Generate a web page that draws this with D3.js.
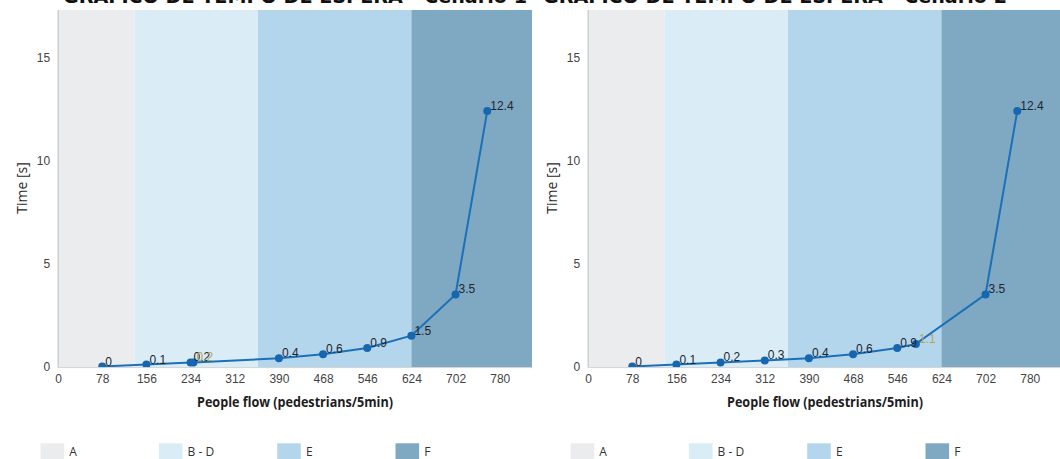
<!DOCTYPE html>
<html><head><meta charset="utf-8">
<script src="https://cdn.jsdelivr.net/npm/d3@7"></script>
<style>html,body{margin:0;padding:0;background:#fff;}svg{display:block;}</style>
</head><body>
<svg id="c" width="1060" height="459"></svg>
<script>
// ---- data ----
const titles = ["GRÁFICO DE TEMPO DE ESPERA - Cenário 1", "GRÁFICO DE TEMPO DE ESPERA - Cenário 2"];
const xTicks = [0, 78, 156, 234, 312, 390, 468, 546, 624, 702, 780];
const yTicks = [0, 5, 10, 15];
const bandNames = ["A", "B - D", "E", "F"];
const bandStart = [0, 135, 353, 624];
const bandEnd = [135, 353, 624, 900];
const bandColors = ["#eaecee", "#daedf6", "#b4d6ec", "#7fa8c3"];
const flow1 = [78, 156, 234, 239, 390, 468, 546, 624, 702, 758];
const time1 = [0, 0.1, 0.2, 0.2, 0.4, 0.6, 0.9, 1.5, 3.5, 12.4];
const tanLabels1 = [3];
const flow2 = [78, 156, 234, 312, 390, 468, 546, 579, 702, 758];
const time2 = [0, 0.1, 0.2, 0.3, 0.4, 0.6, 0.9, 1.1, 3.5, 12.4];
const tanLabels2 = [7];
const xLabel = "People flow (pedestrians/5min)";
const yLabel = "Time [s]";

const svg = d3.select("#c");

function drawChart(ox, title, titleX, titleW, flow, time, tanIdx) {
  const g = svg.append("g").attr("transform", `translate(${ox},0)`);
  const xMax = 837, yMax = 17.3;
  const x = d3.scaleLinear().domain([0, xMax]).range([58.1, 532]);
  const y = d3.scaleLinear().domain([0, 15]).range([366.6, 57.3]);
  const clipId = "clip" + ox;
  g.append("clipPath").attr("id", clipId).append("rect")
    .attr("x", x(0)).attr("y", y(yMax)).attr("width", x(xMax) - x(0)).attr("height", y(0) - y(yMax) + 1);
  const plot = g.append("g").attr("clip-path", `url(#${clipId})`);
  plot.selectAll("rect.band").data(bandNames).join("rect")
    .attr("x", (d, i) => x(bandStart[i]))
    .attr("width", (d, i) => x(bandEnd[i]) - x(bandStart[i]))
    .attr("y", y(yMax)).attr("height", y(0) - y(yMax) + 1)
    .attr("fill", (d, i) => bandColors[i]);
  // axis lines
  g.append("line").attr("x1", x(0)).attr("x2", x(0)).attr("y1", y(yMax)).attr("y2", y(0) + 1)
    .attr("stroke", "#b9bcc0").attr("stroke-width", 1);
  g.append("line").attr("x1", x(0)).attr("x2", x(xMax)).attr("y1", y(0) + 1).attr("y2", y(0) + 1)
    .attr("stroke", "#d0d3d6").attr("stroke-width", 1);
  // x axis
  const xa = g.append("g").attr("transform", `translate(0,${y(0) + 2})`)
    .call(d3.axisBottom(x).tickValues(xTicks).tickSize(0).tickPadding(6));
  xa.select(".domain").remove();
  xa.selectAll("text").attr("font-family", "Arial, 'Liberation Sans', sans-serif").attr("font-size", 12).attr("fill", "#444");
  // y axis
  const ya = g.append("g").attr("transform", `translate(${x(0) - 5},0)`)
    .call(d3.axisLeft(y).tickValues(yTicks).tickSize(0).tickPadding(3));
  ya.select(".domain").remove();
  ya.selectAll("text").attr("font-family", "Arial, 'Liberation Sans', sans-serif").attr("font-size", 12).attr("fill", "#444");
  // line
  const pts = flow.map((f, i) => [f, time[i]]);
  plot.append("path").datum(pts)
    .attr("d", d3.line().x(d => x(d[0])).y(d => y(d[1])))
    .attr("fill", "none").attr("stroke", "#1b70b8").attr("stroke-width", 2);
  plot.selectAll("circle").data(pts).join("circle")
    .attr("cx", d => x(d[0])).attr("cy", d => y(d[1])).attr("r", 4)
    .attr("fill", "#1667b0");
  g.selectAll("text.lbl").data(pts).join("text").attr("class", "lbl")
    .attr("x", d => x(d[0]) + 3).attr("y", d => y(d[1]) - 1)
    .attr("font-family", "Arial, 'Liberation Sans', sans-serif").attr("font-size", 12)
    .attr("fill", (d, i) => tanIdx.includes(i) ? "#bba25c" : "#1e2630")
    .text(d => d[1]);
  // axis titles
  g.append("text").attr("x", 295).attr("y", 407).attr("text-anchor", "middle")
    .attr("font-family", "'Open Sans', sans-serif").attr("font-weight", "bold").attr("font-size", 14)
    .attr("fill", "#1d1d1d").attr("textLength", 196).attr("lengthAdjust", "spacingAndGlyphs").text(xLabel);
  g.append("text").attr("transform", "translate(27,188) rotate(-90)").attr("text-anchor", "middle")
    .attr("font-family", "'Open Sans', sans-serif").attr("font-size", 14).attr("fill", "#2a2a2a").text(yLabel);
  // title
  g.append("text").attr("x", titleX).attr("y", 3)
    .attr("font-family", "'DejaVu Sans', sans-serif").attr("font-weight", "bold").attr("font-size", 20)
    .attr("fill", "#111").attr("textLength", titleW).attr("lengthAdjust", "spacingAndGlyphs").text(title);
  // legend
  const lx = [40.6, 158.9, 277.2, 395.5];
  const lg = g.selectAll("g.leg").data(bandNames).join("g").attr("class", "leg")
    .attr("transform", (d, i) => `translate(${lx[i]},443.3)`);
  lg.append("rect").attr("width", 23.6).attr("height", 20).attr("fill", (d, i) => bandColors[i]);
  lg.append("text").attr("x", 28.7).attr("y", 13).attr("font-family", "'Open Sans', sans-serif")
    .attr("font-size", 12).attr("fill", "#333").text(d => d);
}

drawChart(0, titles[0], 63, 464, flow1, time1, tanLabels1);
drawChart(530, titles[1], 13, 464, flow2, time2, tanLabels2);
</script>
</body></html>
